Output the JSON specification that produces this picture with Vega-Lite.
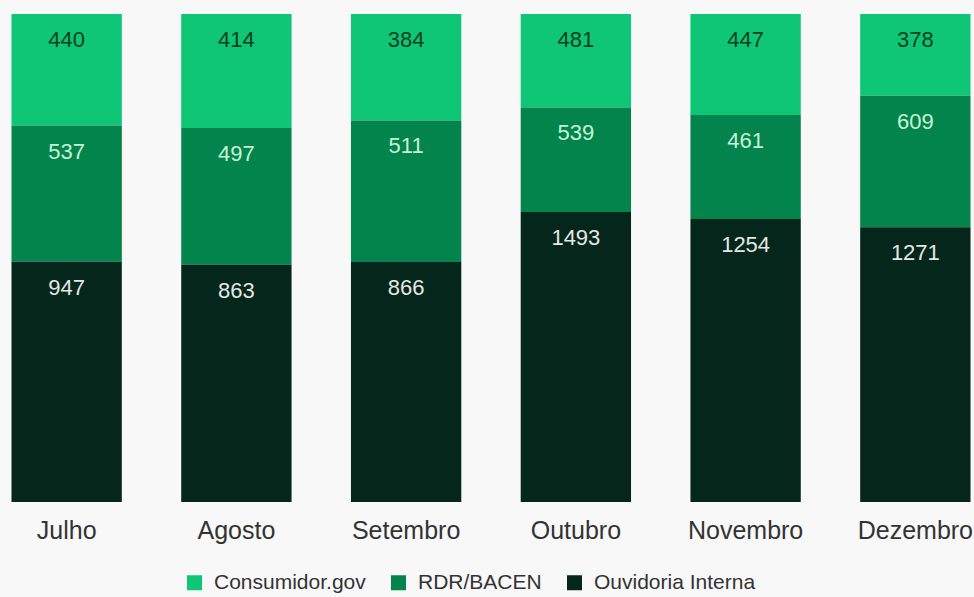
{
  "$schema": "https://vega.github.io/schema/vega-lite/v6.json",
  "width": 976,
  "height": 488,
  "autosize": {"type": "none"},
  "padding": {"left": 3, "top": 14, "right": 0, "bottom": 95},
  "background": "#f8f8f8",
  "config": {"view": {"stroke": null}, "font": "Liberation Sans"},
  "data": {
    "values": [
      {"mes": "Julho", "canal": "Consumidor.gov", "ord": 3, "valor": 440},
      {"mes": "Julho", "canal": "RDR/BACEN", "ord": 2, "valor": 537},
      {"mes": "Julho", "canal": "Ouvidoria Interna", "ord": 1, "valor": 947},
      {"mes": "Agosto", "canal": "Consumidor.gov", "ord": 3, "valor": 414},
      {"mes": "Agosto", "canal": "RDR/BACEN", "ord": 2, "valor": 497},
      {"mes": "Agosto", "canal": "Ouvidoria Interna", "ord": 1, "valor": 863},
      {"mes": "Setembro", "canal": "Consumidor.gov", "ord": 3, "valor": 384},
      {"mes": "Setembro", "canal": "RDR/BACEN", "ord": 2, "valor": 511},
      {"mes": "Setembro", "canal": "Ouvidoria Interna", "ord": 1, "valor": 866},
      {"mes": "Outubro", "canal": "Consumidor.gov", "ord": 3, "valor": 481},
      {"mes": "Outubro", "canal": "RDR/BACEN", "ord": 2, "valor": 539},
      {"mes": "Outubro", "canal": "Ouvidoria Interna", "ord": 1, "valor": 1493},
      {"mes": "Novembro", "canal": "Consumidor.gov", "ord": 3, "valor": 447},
      {"mes": "Novembro", "canal": "RDR/BACEN", "ord": 2, "valor": 461},
      {"mes": "Novembro", "canal": "Ouvidoria Interna", "ord": 1, "valor": 1254},
      {"mes": "Dezembro", "canal": "Consumidor.gov", "ord": 3, "valor": 378},
      {"mes": "Dezembro", "canal": "RDR/BACEN", "ord": 2, "valor": 609},
      {"mes": "Dezembro", "canal": "Ouvidoria Interna", "ord": 1, "valor": 1271}
    ]
  },
  "encoding": {
    "x": {
      "field": "mes",
      "type": "nominal",
      "sort": ["Julho", "Agosto", "Setembro", "Outubro", "Novembro", "Dezembro"],
      "scale": {"paddingInner": 0.35, "paddingOuter": 0.05},
      "axis": {
        "title": null,
        "labelAngle": 0,
        "domain": false,
        "ticks": false,
        "labelFontSize": 25,
        "labelColor": "#333333",
        "labelPadding": 16,
        "labelLimit": 300
      }
    },
    "y": {
      "field": "valor",
      "type": "quantitative",
      "stack": "normalize",
      "axis": null
    },
    "order": {"field": "ord", "type": "quantitative"}
  },
  "layer": [
    {
      "mark": {"type": "bar"},
      "encoding": {
        "color": {
          "field": "canal",
          "type": "nominal",
          "scale": {
            "domain": ["Consumidor.gov", "RDR/BACEN", "Ouvidoria Interna"],
            "range": ["#0ec676", "#03844c", "#05261a"]
          },
          "legend": {
            "title": null,
            "orient": "none",
            "direction": "horizontal",
            "legendX": 181,
            "legendY": 558,
            "symbolType": "square",
            "symbolSize": 225,
            "symbolStrokeWidth": 0,
            "labelFontSize": 21,
            "labelColor": "#333333",
            "labelLimit": 300,
            "columnPadding": 22,
            "labelOffset": 9
          }
        }
      }
    },
    {
      "mark": {"type": "text", "dy": 26, "fontSize": 22, "baseline": "middle"},
      "encoding": {
        "text": {"field": "valor", "type": "quantitative"},
        "color": {
          "field": "canal",
          "type": "nominal",
          "scale": {
            "domain": ["Consumidor.gov", "RDR/BACEN", "Ouvidoria Interna"],
            "range": ["#0a3f20", "#c6f2d6", "#e6e6e6"]
          },
          "legend": null
        }
      }
    }
  ],
  "resolve": {"scale": {"color": "independent"}}
}
